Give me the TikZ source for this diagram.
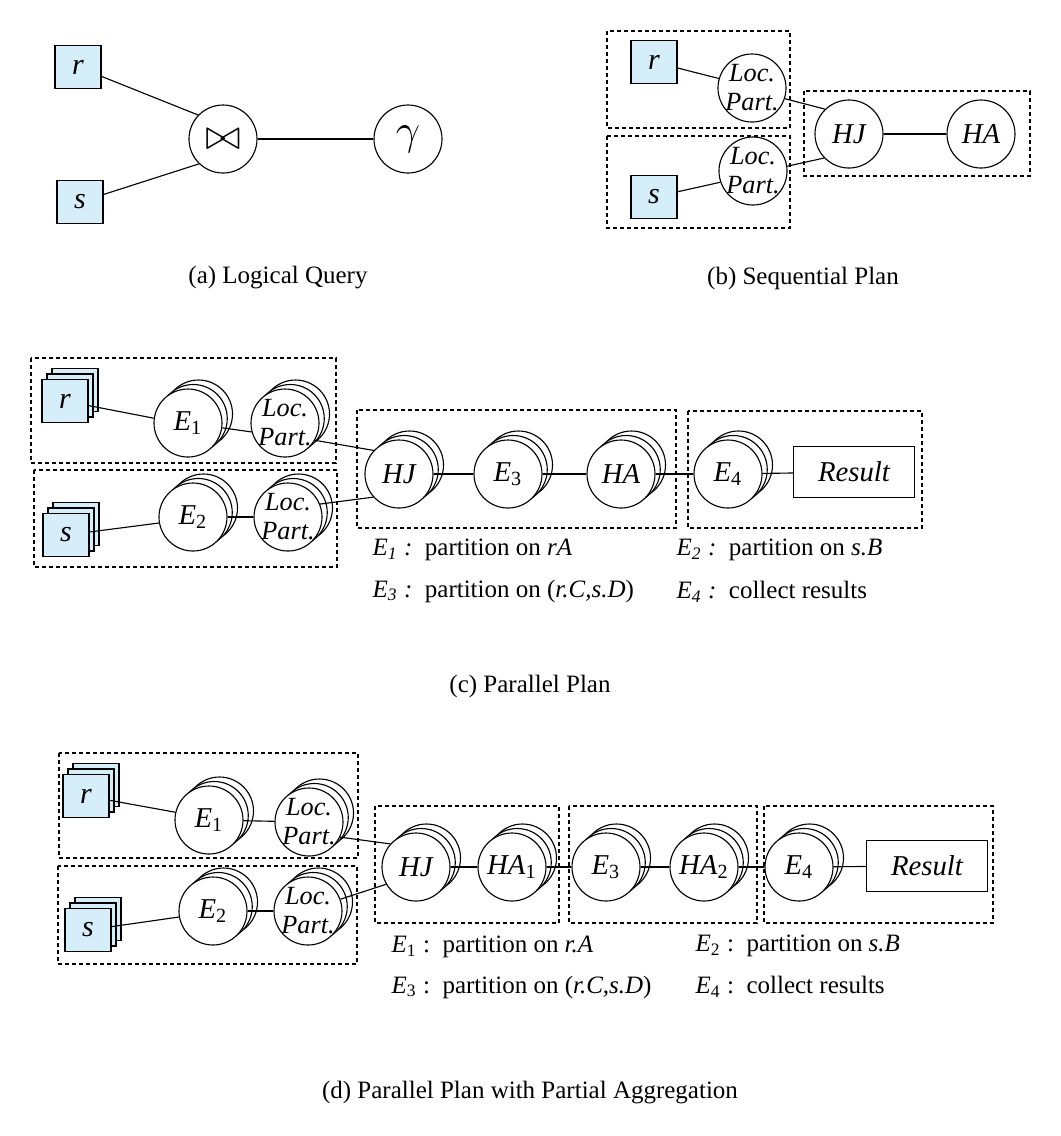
\documentclass[tikz,border=0pt]{standalone}
\usepackage{fontspec}
\setmainfont{Liberation Serif}
\usetikzlibrary{shadows}
\definecolor{relblue}{RGB}{214,238,249}

\newcommand{\sub}[1]{\textsubscript{\upshape #1}}
\newcommand{\locpart}{\makebox[0pt]{Loc.}\\\makebox[0pt]{Part.}}

\tikzset{
  relbox/.style={draw, fill=relblue, minimum width=18.4pt, minimum height=17.2pt, inner sep=0pt,
    font=\itshape\fontsize{12}{12}\selectfont},
  relstack/.style={relbox,
    copy shadow={draw=black, fill=relblue, shadow xshift=4pt, shadow yshift=4.4pt},
    copy shadow={draw=black, fill=relblue, shadow xshift=2pt, shadow yshift=2.2pt}},
  opnode/.style={draw, circle, fill=white, minimum size=27.2pt, inner sep=0pt, align=center,
    font=\itshape\fontsize{11.5}{11.6}\selectfont},
  opstack/.style={opnode,
    copy shadow={draw=black, fill=white, shadow xshift=4.2pt, shadow yshift=3.6pt},
    copy shadow={draw=black, fill=white, shadow xshift=2.1pt, shadow yshift=1.8pt}},
  locfont/.style={font=\itshape\fontsize{10.5}{11.6}\selectfont},
  resultbox/.style={draw, minimum width=48.4pt, minimum height=20.4pt, inner sep=0pt,
    font=\itshape\fontsize{11.5}{12}\selectfont},
  stage/.style={draw, dash pattern=on 1.6pt off 1.2pt},
  note/.style={anchor=west, inner sep=0pt},
}

\begin{document}
\begin{tikzpicture}[x=0.4pt, y=-0.4pt, line width=0.45pt]
  \useasboundingbox (0,0) rectangle (1061,1136);

  % (a)
  \node[relbox] (ra) at (78,67) {r};
  \node[relbox] (sa) at (80,202) {s};
  \node[opnode, font=\LARGE] (joina) at (223,139) {$\bowtie$};
  \node[opnode, font=\LARGE] (gammaa) at (408,139) {$\gamma$};
  \draw (ra) -- (joina.136);
  \draw (sa) -- (joina.-134);
  \draw (joina) -- (gammaa);
  \node (capa) at (278,278) {(a) Logical Query};

  % (b)
  \draw[stage] (607,31) rectangle (790,128);
  \draw[stage] (607,136) rectangle (790,228);
  \draw[stage] (804,91) rectangle (1030,176);
  \node[relbox] (rb) at (654,62) {r};
  \node[relbox] (sb) at (654,197) {s};
  \node[opnode, locfont] (locb1) at (752,88) {\locpart};
  \node[opnode, locfont] (locb2) at (753,171) {\locpart};
  \node[opnode] (hjb) at (849,134) {HJ};
  \node[opnode] (hab) at (981,134) {HA};
  \draw (rb) -- (locb1.164);
  \draw (sb) -- (locb2.-161);
  \draw (locb1.-18) -- (hjb.134);
  \draw (locb2.8) -- (hjb.-136);
  \draw (hjb) -- (hab);
  \node (capb) at (803,278) {(b) Sequential Plan};

  % (c)
  \draw[stage] (31,358) rectangle (336,463);
  \draw[stage] (34,470) rectangle (337,567);
  \draw[stage] (357,410) rectangle (676,528);
  \draw[stage] (688,411) rectangle (922,528);
  \node[relstack] (rc) at (65,401) {r};
  \node[relstack] (sc) at (66,535) {s};
  \node[opstack] (e1c) at (188,423) {E\sub{1}};
  \node[opstack, locfont] (locc1) at (285,423) {\locpart};
  \node[opstack] (e2c) at (193,517) {E\sub{2}};
  \node[opstack, locfont] (locc2) at (288,517) {\locpart};
  \node[opstack] (hjc) at (399,474) {HJ};
  \node[opstack] (e3c) at (508,474) {E\sub{3}};
  \node[opstack] (hac) at (621,474) {HA};
  \node[opstack] (e4c) at (728,474) {E\sub{4}};
  \node[resultbox] (resc) at (854,472) {Result};
  \draw (rc) -- (e1c.172);
  \draw (e1c.-8) -- (locc1.195);
  \draw (locc1.-30) -- (hjc.137);
  \draw (sc) -- (e2c.190);
  \draw (e2c) -- (locc2);
  \draw (locc2.22) -- (hjc.-138);
  \draw (hjc) -- (e3c);
  \draw (e3c) -- (hac);
  \draw (hac) -- (e4c);
  \draw (e4c) -- (resc);
  \node[note] (ntc1) at (372,550) {\textit{E\textsubscript{1} :}~~partition on \textit{rA}};
  \node[note] (ntc3) at (372,591) {\textit{E\textsubscript{3} :}~~partition on (\textit{r.C,s.D})};
  \node[note] (ntc2) at (676,550) {\textit{E\textsubscript{2} :}~~partition on \textit{s.B}};
  \node[note] (ntc4) at (676,592) {\textit{E\textsubscript{4} :}~~collect results};
  \node (capc) at (530,686) {(c) Parallel Plan};

  % (d)
  \draw[stage] (59,753) rectangle (358,858);
  \draw[stage] (58,866) rectangle (357,964);
  \draw[stage] (375,806) rectangle (559,923);
  \draw[stage] (569,806) rectangle (757,923);
  \draw[stage] (764,806) rectangle (993,923);
  \node[relstack] (rd) at (86,796) {r};
  \node[relstack] (sd) at (88,930) {s};
  \node[opstack] (e1d) at (209,820) {E\sub{1}};
  \node[opstack, locfont] (locd1) at (309,822) {\locpart};
  \node[opstack] (e2d) at (213,911) {E\sub{2}};
  \node[opstack, locfont] (locd2) at (308,911) {\locpart};
  \node[opstack] (hjd) at (416,867) {HJ};
  \node[opstack] (ha1d) at (512,867) {HA\sub{1}};
  \node[opstack] (e3d) at (606,867) {E\sub{3}};
  \node[opstack] (ha2d) at (704,867) {HA\sub{2}};
  \node[opstack] (e4d) at (799,867) {E\sub{4}};
  \node[resultbox] (resd) at (927,866) {Result};
  \draw (rd) -- (e1d.167);
  \draw (e1d) -- (locd1);
  \draw (locd1.-26) -- (hjd.138);
  \draw (sd) -- (e2d.190);
  \draw (e2d) -- (locd2);
  \draw (locd2.20) -- (hjd.-150);
  \draw (hjd) -- (ha1d);
  \draw (ha1d) -- (e3d);
  \draw (e3d) -- (ha2d);
  \draw (ha2d) -- (e4d);
  \draw (e4d) -- (resd);
  \node[note] (ntd1) at (391,947) {\textit{E}\textsubscript{1} :~~partition on \textit{r.A}};
  \node[note] (ntd3) at (391,987) {\textit{E}\textsubscript{3} :~~partition on (\textit{r.C,s.D})};
  \node[note] (ntd2) at (695,946) {\textit{E}\textsubscript{2} :~~partition on \textit{s.B}};
  \node[note] (ntd4) at (695,987) {\textit{E}\textsubscript{4} :~~collect results};
  \node (capd) at (530,1093) {(d) Parallel Plan with Partial Aggregation};
\end{tikzpicture}
\end{document}
